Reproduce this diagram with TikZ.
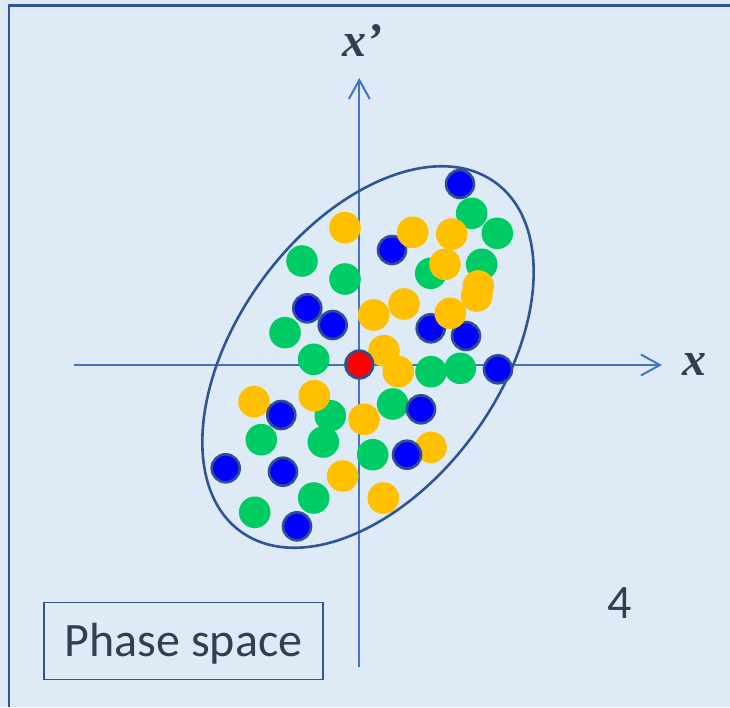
\documentclass[tikz,border=0pt]{standalone}
\usepackage{fontspec}
\setmainfont{Carlito}
\newfontfamily\tnr{Liberation Serif}
\usetikzlibrary{arrows.meta}
\definecolor{bgc}{HTML}{DEEBF7}
\definecolor{framec}{HTML}{2F5597}
\definecolor{axisc}{HTML}{4472C4}
\definecolor{outc}{HTML}{2F528F}
\definecolor{gc}{HTML}{00CC66}
\definecolor{yc}{HTML}{FFC000}
\definecolor{bc}{HTML}{0000FF}
\definecolor{rc}{HTML}{FF0000}
\definecolor{txtc}{HTML}{323F4F}
\tikzset{
  axisline/.style={draw=axisc, line width=2pt, -{Straight Barb[length=19pt,width=21pt]}},
  gdot/.style={fill=gc, draw=none},
  ydot/.style={fill=yc, draw=none},
  bdot/.style={fill=bc, draw=outc, line width=2.6pt},
  rdot/.style={fill=rc, draw=outc, line width=2.7pt},
  bigtext/.style={text=txtc, font=\fontsize{48}{58}\selectfont},
  mathlab/.style={text=txtc, font=\fontsize{48}{58}\selectfont\tnr\bfseries\itshape},
}
\begin{document}
\begin{tikzpicture}[x=1pt,y=-1pt]
\useasboundingbox (0,0) rectangle (730,707);
\fill[bgc] (0,0) rectangle (730,707);
\draw[framec, line width=2.5pt] (9,707) -- (9,5.5) -- (730,5.5);

% axes
\coordinate (hstart) at (74,365);
\coordinate (hend) at (662,365);
\coordinate (vstart) at (359.3,667);
\coordinate (vend) at (359.3,78);
\draw[axisline] (hstart) -- (hend);
\draw[axisline] (vstart) -- (vend);

% ellipse
\draw[framec, line width=2.6pt, rotate around={53.8:(368,357)}] (368,357) ellipse [x radius=216, y radius=131];

% green dots
\foreach \p in {(471.7,213.3),(497.3,233.3),(302,261),(345,279),(430.7,273.3),(481.7,264.3),
  (285,332.7),(313.7,359.3),(431,371.7),(460.3,368.3),(330.3,415.7),(392.7,404),
  (261.3,439.7),(323.3,442),(372.7,454.7),(313.7,498),(254.7,512.3)}
  \path[gdot] \p circle[radius=15.8];

% blue dots underneath yellows
\foreach \p in {(392,250),(430.7,328.3),(466,336)}
  \path[bdot] \p circle[radius=14];

% yellow dots
\foreach \p in {(345,227.7),(412.7,232.3),(451.7,234),(445,264.3),(478.3,286),(476.7,296),
  (373.7,315),(404,304),(450.3,313.3),(384,350.7),(398.3,371.7),
  (254,401.7),(314.3,395.7),(364,419.3),(431,447.3),(342.7,476),(383.3,498)}
  \path[ydot] \p circle[radius=15.8];

% blue dots on top
\foreach \p in {(460,184),(307.3,308.3),(332.7,325),(498,369.3),(281.3,415),(421,409.3),
  (407,454.7),(225.7,468.3),(283,471.7),(297,526.3)}
  \path[bdot] \p circle[radius=14];

% red centre
\path[rdot] (359.3,364.5) circle[radius=13.8];

% labels
\node[mathlab, anchor=base] (xlab) at (694,375) {x};
\node[mathlab, anchor=base] (xplab) at (362,56) {x’};
\node[bigtext, anchor=base] (num) at (619.5,618) {4};
\node[bigtext, draw=framec, line width=1.5pt, minimum width=279pt, minimum height=77pt,
  text height=31pt, text depth=0pt, inner sep=0pt] (psbox) at (183.5,641) {Phase space};
\end{tikzpicture}
\end{document}
